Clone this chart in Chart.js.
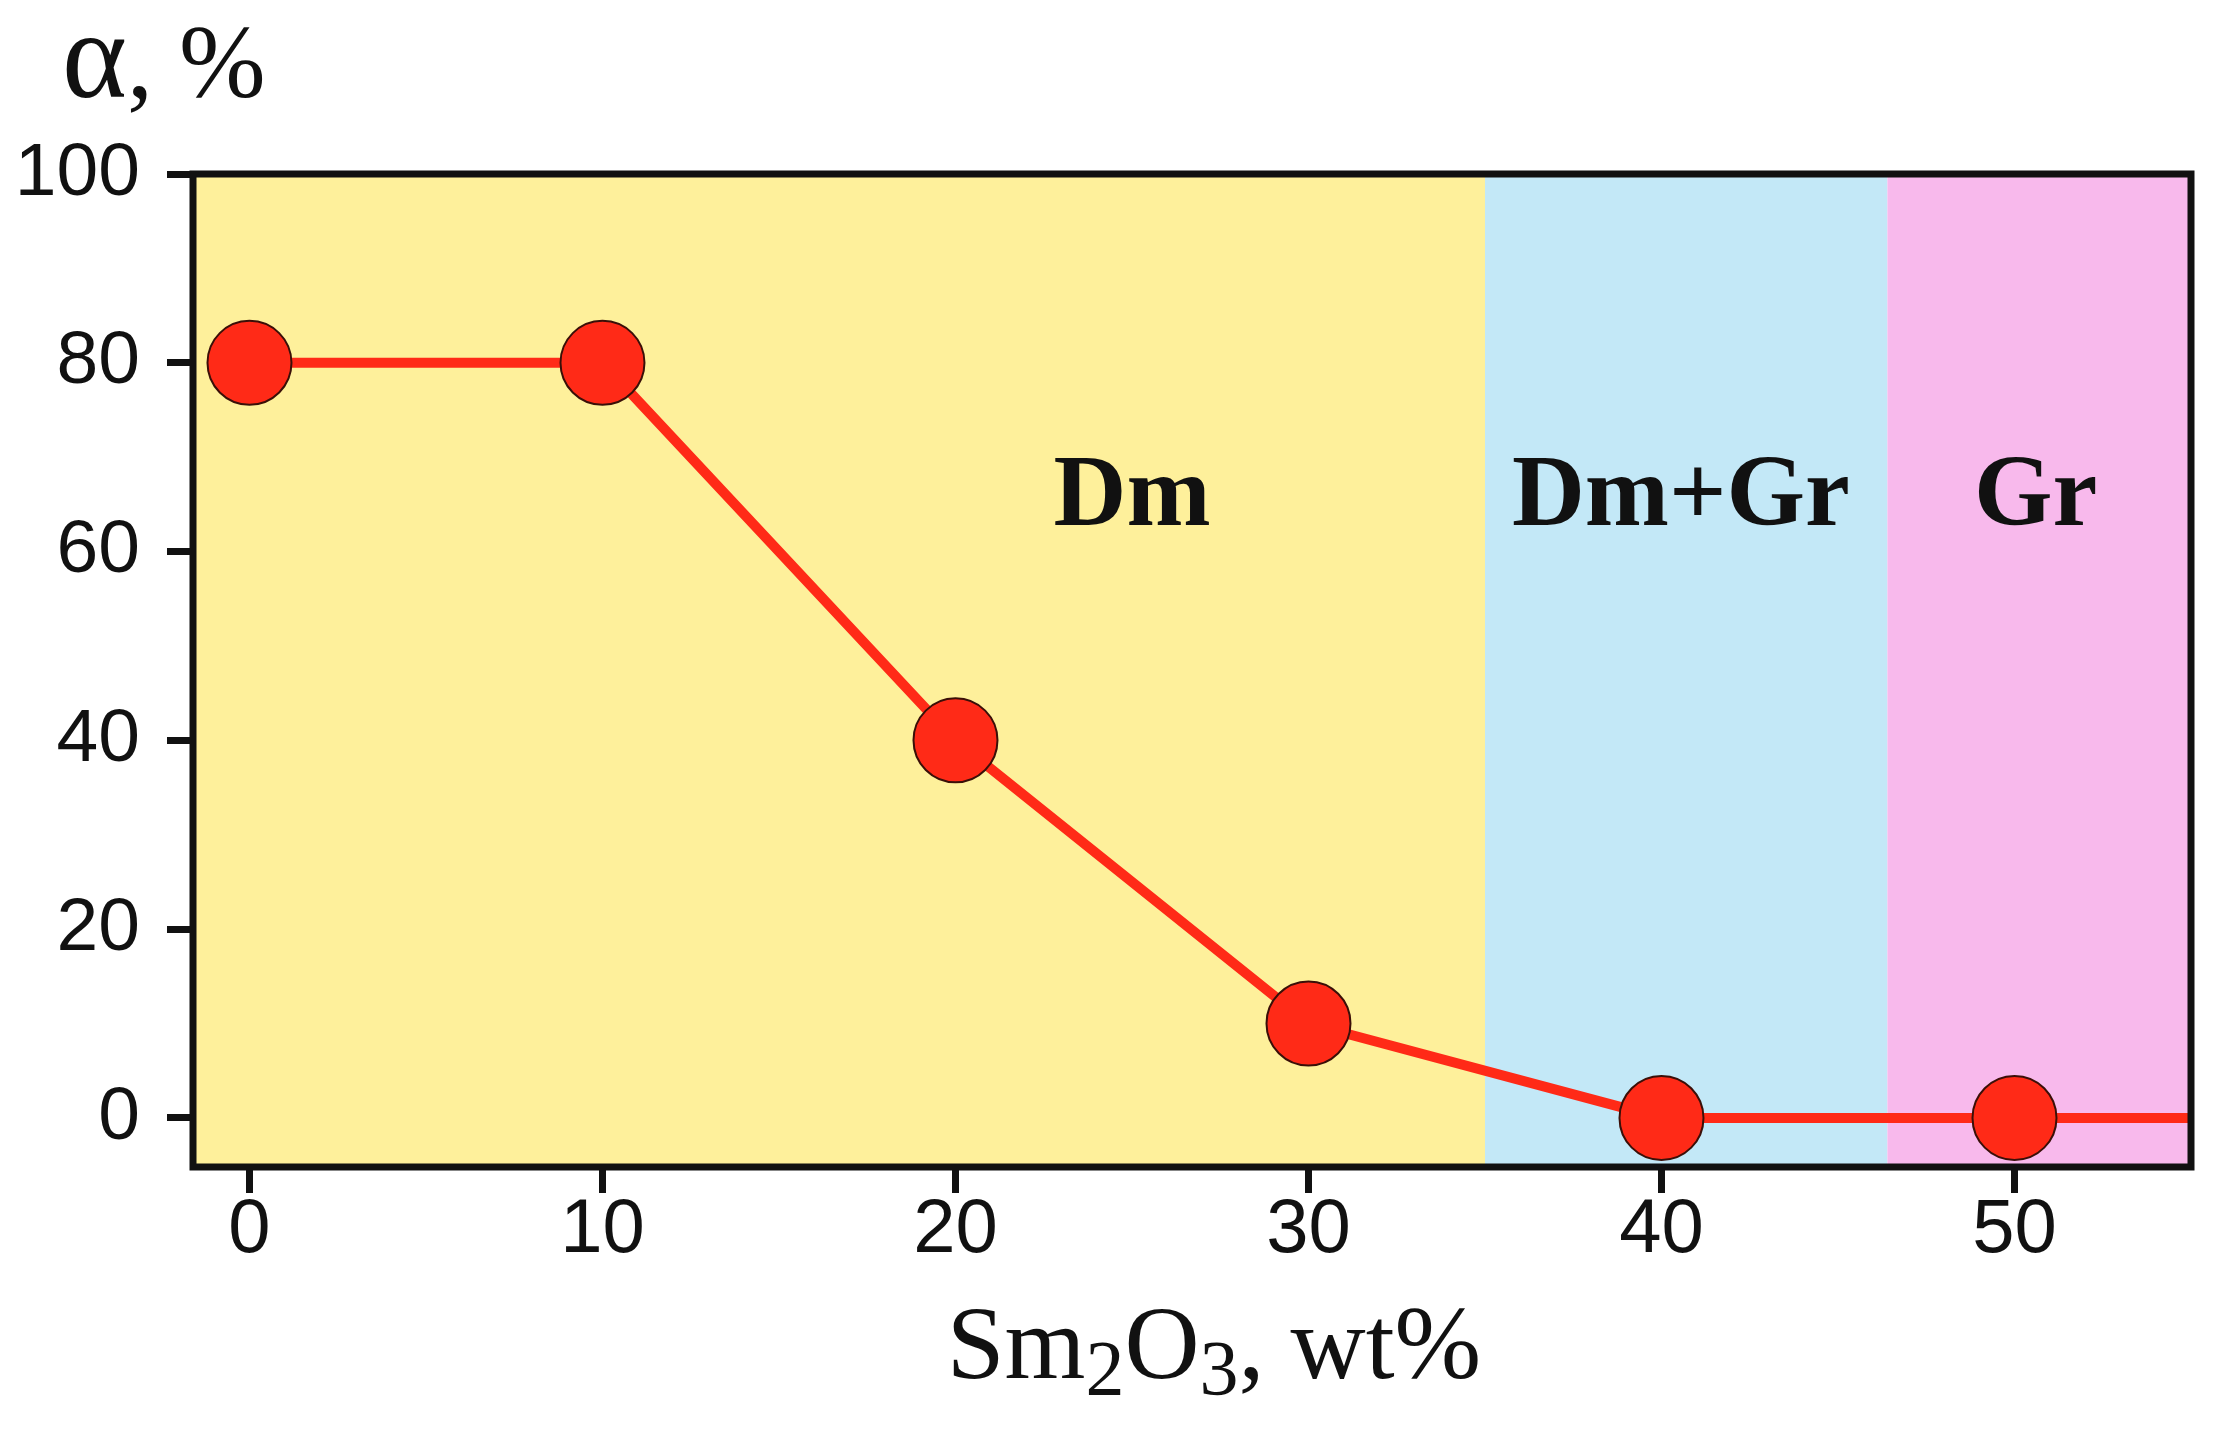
<!DOCTYPE html>
<html>
<head>
<meta charset="utf-8">
<script src="https://cdn.jsdelivr.net/npm/chart.js@4/dist/chart.umd.min.js"></script>
<style>
  html, body { margin: 0; padding: 0; background: #ffffff; }
  #wrap { width: 2236px; height: 1433px; }
</style>
</head>
<body>
<div id="wrap"><canvas id="c" width="2236" height="1433"></canvas></div>
<script>
// ---- data ----
const xValues = [0, 10, 20, 30, 40, 50, 55];
const alphaValues = [80, 80, 40, 10, 0, 0, 0];
const xTickValues = [0, 10, 20, 30, 40, 50];
const yTickValues = [0, 20, 40, 60, 80, 100];
const xRange = [-1.6, 55];
const yRange = [-5.2, 100];
const regionEdges = [35, 46.4];            // phase boundaries (wt%)
const regionColors = ['#FEF09B', '#C3E8F7', '#F8B9EC'];
const regionNames = ['Dm', 'Dm+Gr', 'Gr'];
const regionLabelX = [25, 40.55, 50.6];
const regionLabelY = 62.8;

const points = xValues.map((x, i) => ({ x: x, y: alphaValues[i] }));
const pointRadii = xValues.map((x) => (xTickValues.includes(x) ? 42 : 0));

const phasePlugin = {
  id: 'phases',
  beforeDatasetsDraw(chart) {
    const { ctx, chartArea: a, scales: { x } } = chart;
    const edges = [x.min, ...regionEdges, x.max];
    ctx.save();
    for (let i = 0; i < regionColors.length; i++) {
      const x0 = x.getPixelForValue(edges[i]);
      const x1 = x.getPixelForValue(edges[i + 1]);
      ctx.fillStyle = regionColors[i];
      ctx.fillRect(x0, a.top, x1 - x0, a.bottom - a.top);
    }
    ctx.fillStyle = '#111111';
    ctx.font = 'bold 101px "Liberation Serif", "Times New Roman", serif';
    ctx.textAlign = 'center';
    ctx.textBaseline = 'alphabetic';
    const yPix = chart.scales.y.getPixelForValue(regionLabelY);
    regionNames.forEach((n, i) => {
      ctx.fillText(n, x.getPixelForValue(regionLabelX[i]), yPix);
    });
    ctx.restore();
  },
  afterDatasetsDraw(chart) {
    const { ctx, chartArea: a } = chart;
    ctx.save();
    ctx.strokeStyle = '#111111';
    ctx.lineWidth = 7;
    ctx.strokeRect(a.left, a.top, a.right - a.left, a.bottom - a.top);
    ctx.restore();
  },
  afterDraw(chart) {
    const { ctx } = chart;
    ctx.save();
    ctx.fillStyle = '#111111';
    ctx.textBaseline = 'alphabetic';
    ctx.textAlign = 'left';
    const big = '104px "Liberation Serif", "Times New Roman", serif';
    const sub = '78px "Liberation Serif", "Times New Roman", serif';
    // x-axis title: Sm2O3, wt%
    const parts = [
      ['Sm', big, 0], ['2', sub, 16], ['O', big, 0], ['3', sub, 16], [', wt%', big, 0]
    ];
    let total = 0;
    parts.forEach(p => { ctx.font = p[1]; total += ctx.measureText(p[0]).width; });
    let xPos = 1214 - total / 2;
    const base = 1378;
    parts.forEach(p => {
      ctx.font = p[1];
      ctx.fillText(p[0], xPos, base + p[2]);
      xPos += ctx.measureText(p[0]).width;
    });
    // y-axis title: α, %
    ctx.font = '124px "Liberation Serif", "Times New Roman", serif';
    ctx.fillText('α', 62, 97);
    const w = ctx.measureText('α').width;
    ctx.font = '104px "Liberation Serif", "Times New Roman", serif';
    ctx.fillText(', %', 62 + w, 97);
    ctx.restore();
  }
};

new Chart(document.getElementById('c'), {
  type: 'line',
  data: {
    datasets: [{
      data: points,
      borderColor: '#FF2A17',
      borderWidth: 10,
      backgroundColor: '#FF2A17',
      pointBackgroundColor: '#FF2A17',
      pointBorderColor: '#3a0f08',
      pointBorderWidth: 2,
      pointRadius: pointRadii,
      pointHoverRadius: pointRadii,
      tension: 0,
      fill: false
    }]
  },
  options: {
    responsive: false,
    devicePixelRatio: 1,
    animation: false,
    events: [],
    layout: { padding: { top: 174, right: 45, left: 0, bottom: 0 } },
    plugins: { legend: { display: false }, tooltip: { enabled: false } },
    scales: {
      x: {
        type: 'linear',
        min: xRange[0],
        max: xRange[1],
        afterBuildTicks: (s) => { s.ticks = xTickValues.map(v => ({ value: v })); },
        afterFit: (s) => { s.height = 266; },
        border: { display: false },
        grid: { display: true, drawOnChartArea: false, drawTicks: true, tickLength: 26, tickWidth: 7, tickColor: '#111111' },
        ticks: {
          color: '#111111',
          padding: 4,
          maxRotation: 0,
          font: { family: '"Liberation Sans", Arial, sans-serif', size: 76, lineHeight: 0.9 }
        }
      },
      y: {
        type: 'linear',
        min: yRange[0],
        max: yRange[1],
        afterBuildTicks: (s) => { s.ticks = yTickValues.map(v => ({ value: v })); },
        afterFit: (s) => { s.width = 193; },
        border: { display: false },
        grid: { display: true, drawOnChartArea: false, drawTicks: true, tickLength: 26, tickWidth: 7, tickColor: '#111111' },
        ticks: {
          color: '#111111',
          padding: 27,
          font: { family: '"Liberation Sans", Arial, sans-serif', size: 75 }
        }
      }
    }
  },
  plugins: [phasePlugin]
});
</script>
</body>
</html>
